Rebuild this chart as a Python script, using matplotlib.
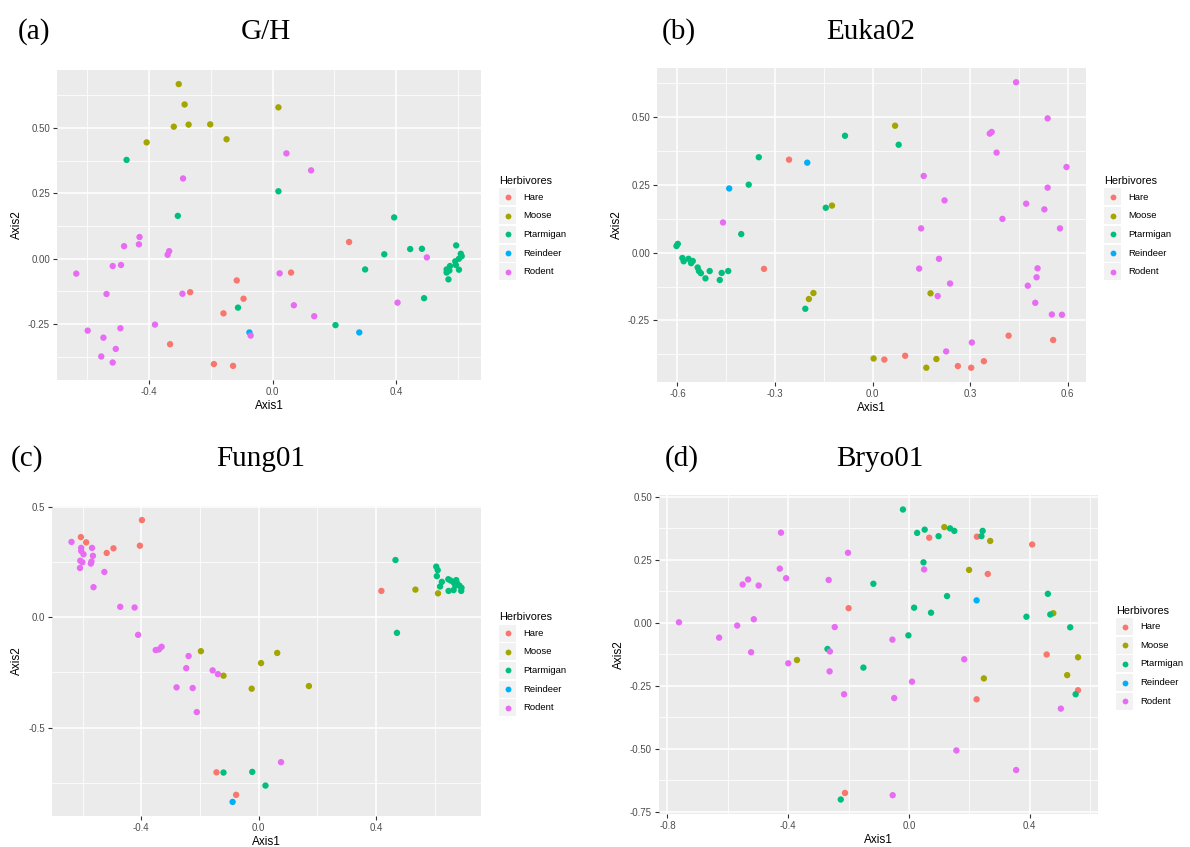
import matplotlib
matplotlib.use("Agg")
import matplotlib.pyplot as plt
from matplotlib.patches import Rectangle
from matplotlib.lines import Line2D

W, H = 1190, 847

groups = ["Hare", "Moose", "Ptarmigan", "Reindeer", "Rodent"]
colors = ["#F8766D", "#A3A500", "#00BF7D", "#00B0F6", "#E76BF3"]

# ---------------- Panel (a) G/H ----------------
gh_hare_x = [-0.116, -0.267, -0.094, -0.159, -0.332, -0.190, -0.128, 0.248, 0.060]
gh_hare_y = [-0.083, -0.128, -0.153, -0.209, -0.327, -0.403, -0.410, 0.064, -0.053]
gh_moose_x = [-0.304, -0.285, -0.320, -0.272, -0.202, -0.149, -0.408, 0.019]
gh_moose_y = [0.668, 0.590, 0.505, 0.513, 0.514, 0.457, 0.445, 0.579]
gh_ptarmigan_x = [-0.473, -0.307, 0.019, -0.112, 0.394, 0.362, 0.446, 0.484,
                  0.595, 0.610, 0.613, 0.604, 0.592, 0.594, 0.575, 0.564, 0.573, 0.564, 0.604, 0.570,
                  0.300, 0.491, 0.204]
gh_ptarmigan_y = [0.378, 0.164, 0.258, -0.187, 0.158, 0.017, 0.037, 0.038,
                  0.051, 0.019, 0.010, 0.000, -0.010, -0.024, -0.028, -0.041, -0.045, -0.053, -0.042, -0.079,
                  -0.041, -0.151, -0.254]
gh_reindeer_x = [-0.075, 0.281]
gh_reindeer_y = [-0.282, -0.282]
gh_rodent_x = [-0.290, -0.431, -0.433, -0.481, -0.335, -0.340, -0.491, -0.518, -0.636, -0.538,
               -0.292, -0.381, -0.599, -0.493, -0.548, -0.508, -0.555, -0.518, -0.071, 0.023,
               0.045, 0.125, 0.500, 0.069, 0.135, 0.405]
gh_rodent_y = [0.307, 0.083, 0.055, 0.048, 0.029, 0.015, -0.024, -0.028, -0.057, -0.135,
               -0.134, -0.252, -0.275, -0.266, -0.302, -0.345, -0.374, -0.397, -0.294, -0.056,
               0.403, 0.338, 0.005, -0.178, -0.220, -0.168]

# ---------------- Panel (b) Euka02 ----------------
eu_hare_x = [-0.257, -0.334, 0.036, 0.100, 0.418, 0.555, 0.262, 0.303, 0.342]
eu_hare_y = [0.342, -0.060, -0.394, -0.380, -0.306, -0.322, -0.418, -0.424, -0.400]
eu_moose_x = [0.069, -0.125, -0.182, -0.196, 0.003, 0.178, 0.196, 0.165]
eu_moose_y = [0.467, 0.173, -0.149, -0.171, -0.390, -0.150, -0.392, -0.424]
eu_ptarmigan_x = [0.080, -0.085, -0.350, -0.381, -0.144, -0.404, -0.207,
                  -0.603, -0.599, -0.585, -0.581, -0.566, -0.558, -0.553, -0.538, -0.534, -0.528,
                  -0.501, -0.514, -0.464, -0.444, -0.470]
eu_ptarmigan_y = [0.397, 0.430, 0.351, 0.250, 0.165, 0.068, -0.207,
                  0.024, 0.032, -0.020, -0.032, -0.023, -0.039, -0.031, -0.055, -0.068, -0.076,
                  -0.068, -0.095, -0.075, -0.068, -0.101]
eu_reindeer_x = [-0.201, -0.441]
eu_reindeer_y = [0.331, 0.236]
eu_rodent_x = [-0.460, 0.441, 0.538, 0.366, 0.360, 0.381, 0.596, 0.157, 0.538, 0.221,
               0.472, 0.528, 0.399, 0.149, 0.576, 0.204, 0.143, 0.507, 0.504, 0.238,
               0.477, 0.200, 0.500, 0.551, 0.582, 0.305, 0.226]
eu_rodent_y = [0.111, 0.627, 0.494, 0.444, 0.438, 0.368, 0.315, 0.282, 0.239, 0.192,
               0.180, 0.159, 0.124, 0.089, 0.089, -0.023, -0.059, -0.058, -0.091, -0.114,
               -0.122, -0.160, -0.185, -0.228, -0.229, -0.331, -0.364]

# ---------------- Panel (c) Fung01 ----------------
fu_hare_x = [-0.606, -0.588, -0.518, -0.495, -0.398, -0.405, -0.144, -0.077, 0.418]
fu_hare_y = [0.363, 0.339, 0.291, 0.312, 0.440, 0.324, -0.703, -0.805, 0.119]
fu_moose_x = [-0.197, -0.120, -0.024, 0.008, 0.063, 0.171, 0.534, 0.611]
fu_moose_y = [-0.154, -0.265, -0.324, -0.208, -0.162, -0.312, 0.125, 0.108]
fu_ptarmigan_x = [-0.120, -0.022, 0.023, 0.466, 0.471,
                  0.605, 0.610, 0.607, 0.624, 0.618, 0.646, 0.654, 0.665, 0.673, 0.676,
                  0.684, 0.691, 0.690, 0.664, 0.647, 0.670]
fu_ptarmigan_y = [-0.704, -0.701, -0.763, 0.259, -0.071,
                  0.229, 0.213, 0.186, 0.160, 0.139, 0.172, 0.166, 0.156, 0.168, 0.153,
                  0.143, 0.133, 0.119, 0.123, 0.119, 0.143]
fu_reindeer_x = [-0.089]
fu_reindeer_y = [-0.837]
fu_rodent_x = [-0.638, -0.605, -0.605, -0.597, -0.568, -0.565, -0.608, -0.601, -0.570, -0.572,
               -0.609, -0.526, -0.563, -0.472, -0.423, -0.411, -0.351, -0.340, -0.331, -0.239,
               -0.247, -0.157, -0.139, -0.280, -0.225, -0.211, 0.076]
fu_rodent_y = [0.341, 0.314, 0.300, 0.285, 0.314, 0.278, 0.256, 0.249, 0.252, 0.243,
               0.223, 0.205, 0.136, 0.047, 0.044, -0.080, -0.149, -0.146, -0.134, -0.176,
               -0.231, -0.241, -0.258, -0.318, -0.321, -0.430, -0.657]

# ---------------- Panel (d) Bryo01 ----------------
br_hare_x = [-0.200, -0.212, 0.067, 0.225, 0.408, 0.261, 0.456, 0.560, 0.224]
br_hare_y = [0.058, -0.676, 0.338, 0.342, 0.311, 0.194, -0.126, -0.268, -0.304]
br_moose_x = [-0.371, 0.117, 0.269, 0.199, 0.478, 0.560, 0.524, 0.248]
br_moose_y = [-0.148, 0.380, 0.325, 0.210, 0.038, -0.137, -0.208, -0.221]
br_ptarmigan_x = [-0.118, -0.270, -0.151, -0.226, -0.020, 0.027, 0.052, 0.098, 0.136, 0.150,
                  0.240, 0.244, 0.048, 0.126, 0.017, 0.073, 0.460, 0.389, 0.468, 0.534,
                  -0.002, 0.552]
br_ptarmigan_y = [0.155, -0.104, -0.178, -0.702, 0.450, 0.357, 0.370, 0.344, 0.375, 0.365,
                  0.344, 0.365, 0.240, 0.106, 0.060, 0.040, 0.115, 0.024, 0.033, -0.018,
                  -0.050, -0.284]
br_reindeer_x = [0.224]
br_reindeer_y = [0.089]
br_rodent_x = [-0.762, -0.629, -0.569, -0.523, -0.514, -0.551, -0.533, -0.498, -0.428, -0.407,
               -0.424, -0.202, -0.266, -0.246, -0.400, -0.262, -0.263, -0.215, 0.050, -0.055,
               0.183, 0.010, -0.049, 0.503, 0.157, 0.355, -0.054]
br_rodent_y = [0.002, -0.059, -0.011, -0.117, 0.014, 0.152, 0.172, 0.148, 0.215, 0.177,
               0.358, 0.278, 0.170, -0.017, -0.161, -0.114, -0.193, -0.284, 0.212, -0.067,
               -0.145, -0.234, -0.299, -0.341, -0.507, -0.585, -0.685]

panels = [
    dict(label="(a)", title="G/H",
         xs=[gh_hare_x, gh_moose_x, gh_ptarmigan_x, gh_reindeer_x, gh_rodent_x],
         ys=[gh_hare_y, gh_moose_y, gh_ptarmigan_y, gh_reindeer_y, gh_rodent_y],
         box=(57, 70, 481, 380), xt=[-0.4, 0.0, 0.4], yt=[-0.25, 0.0, 0.25, 0.5], yfmt="{:.2f}",
         lab=(18, 39), tit=(266, 39)),
    dict(label="(b)", title="Euka02",
         xs=[eu_hare_x, eu_moose_x, eu_ptarmigan_x, eu_reindeer_x, eu_rodent_x],
         ys=[eu_hare_y, eu_moose_y, eu_ptarmigan_y, eu_reindeer_y, eu_rodent_y],
         box=(657, 68, 1086, 382), xt=[-0.6, -0.3, 0.0, 0.3, 0.6], yt=[-0.25, 0.0, 0.25, 0.5], yfmt="{:.2f}",
         lab=(662, 39), tit=(871, 39)),
    dict(label="(c)", title="Fung01",
         xs=[fu_hare_x, fu_moose_x, fu_ptarmigan_x, fu_reindeer_x, fu_rodent_x],
         ys=[fu_hare_y, fu_moose_y, fu_ptarmigan_y, fu_reindeer_y, fu_rodent_y],
         box=(52, 506, 481, 816), xt=[-0.4, 0.0, 0.4], yt=[-0.5, 0.0, 0.5], yfmt="{:.1f}",
         lab=(11, 466), tit=(261, 466)),
    dict(label="(d)", title="Bryo01",
         xs=[br_hare_x, br_moose_x, br_ptarmigan_x, br_reindeer_x, br_rodent_x],
         ys=[br_hare_y, br_moose_y, br_ptarmigan_y, br_reindeer_y, br_rodent_y],
         box=(659, 495, 1098, 814), xt=[-0.8, -0.4, 0.0, 0.4], yt=[-0.75, -0.5, -0.25, 0.0, 0.25, 0.5],
         yfmt="{:.2f}", lab=(665, 466), tit=(880, 466)),
]

fig = plt.figure(figsize=(W / 100, H / 100), dpi=100)
fig.patch.set_facecolor("white")

SANS = ["Liberation Sans", "DejaVu Sans"]
SERIF = ["Liberation Serif", "DejaVu Serif"]


def fx(px):
    return px / W


def fy(py):
    return 1 - py / H


for p in panels:
    x0, y0, x1, y1 = p["box"]
    ax = fig.add_axes([fx(x0), fy(y1), (x1 - x0) / W, (y1 - y0) / H])
    ax.set_facecolor("#EBEBEB")
    for sp in ax.spines.values():
        sp.set_visible(False)
    for xs, ys, c in zip(p["xs"], p["ys"], colors):
        ax.scatter(xs, ys, s=21, color=c, edgecolors="none", zorder=3)
    ax.margins(0.05)
    ax.set_xticks(p["xt"])
    ax.set_yticks(p["yt"])
    xl = ax.get_xlim()
    yl = ax.get_ylim()
    dx = p["xt"][1] - p["xt"][0]
    dy = p["yt"][1] - p["yt"][0]
    xm = [p["xt"][0] - dx / 2] + [t + dx / 2 for t in p["xt"]]
    ym = [p["yt"][0] - dy / 2] + [t + dy / 2 for t in p["yt"]]
    ax.set_xticks([v for v in xm if xl[0] < v < xl[1]], minor=True)
    ax.set_yticks([v for v in ym if yl[0] < v < yl[1]], minor=True)
    ax.set_xlim(xl)
    ax.set_ylim(yl)
    ax.set_xticklabels(["{:.1f}".format(t) for t in p["xt"]])
    ax.set_yticklabels([p["yfmt"].format(t) for t in p["yt"]])
    ax.grid(True, which="major", color="white", linewidth=1.1, zorder=0)
    ax.grid(True, which="minor", color="white", linewidth=0.55, zorder=0)
    ax.set_axisbelow(True)
    ax.tick_params(which="major", length=3, width=0.8, color="#333333", labelcolor="#4D4D4D",
                   labelsize=7, pad=2)
    ax.tick_params(which="minor", length=0)
    for lbl in ax.get_xticklabels() + ax.get_yticklabels():
        lbl.set_family(SANS)
    ax.set_xlabel("Axis1", fontsize=8.5, family=SANS, color="black", labelpad=2)
    ax.set_ylabel("Axis2", fontsize=8.5, family=SANS, color="black", labelpad=4)

    fig.text(fx(p["lab"][0]), fy(p["lab"][1]), p["label"], family=SERIF, fontsize=21,
             ha="left", va="baseline")
    fig.text(fx(p["tit"][0]), fy(p["tit"][1]), p["title"], family=SERIF, fontsize=21,
             ha="center", va="baseline")

    # legend (drawn manually, ggplot style)
    lx = x1 + 18
    cy = (y0 + y1) / 2
    top = cy - 50
    fig.text(fx(lx), fy(top + 6), "Herbivores", family=SANS, fontsize=7.8, ha="left", va="center")
    for i, (g, c) in enumerate(zip(groups, colors)):
        ry = top + 22 + i * 18.7
        fig.patches.append(Rectangle((fx(lx), fy(ry + 8.5)), 17 / W, 17 / H, transform=fig.transFigure,
                                     facecolor="#F2F2F2", edgecolor="none"))
        fig.lines.append(Line2D([fx(lx + 8.5)], [fy(ry)], marker="o", markersize=4.2, color=c,
                                markeredgewidth=0, linestyle="none", transform=fig.transFigure))
        fig.text(fx(lx + 24), fy(ry), g, family=SANS, fontsize=6.8, ha="left", va="center")

fig.savefig("out.png", dpi=100, facecolor="white")
